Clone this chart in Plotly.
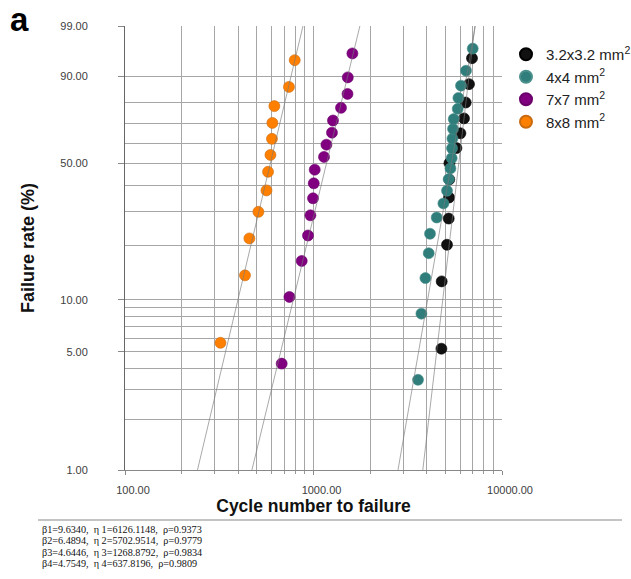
import numpy as np
import plotly.graph_objects as go

# ---------------- data ----------------
series_names = ["3.2x3.2 mm<sup>2</sup>", "4x4 mm<sup>2</sup>", "7x7 mm<sup>2</sup>", "8x8 mm<sup>2</sup>"]

cycles_32 = [4770, 4787, 5108, 5215, 5234, 5250, 5260, 5730, 6016, 6285, 6418, 6683, 6931]
rate_32 = [5.22, 12.69, 20.15, 27.61, 35.07, 42.54, 50.00, 57.46, 64.93, 72.39, 79.85, 87.31, 94.78]

cycles_4 = [3585, 3736, 3923, 4085, 4150, 4503, 4888, 5108, 5215, 5326, 5410, 5430, 5457, 5497,
            5544, 5821, 5871, 6060, 6442, 6992]
rate_4 = [3.43, 8.33, 13.24, 18.14, 23.04, 27.94, 32.84, 37.75, 42.65, 47.55, 52.45, 57.35, 62.25,
          67.16, 72.06, 76.96, 81.86, 86.76, 91.67, 96.57]

cycles_7 = [678, 745, 866, 935, 963, 994, 1003, 1015, 1137, 1171, 1253, 1269, 1399, 1515, 1520, 1608]
rate_7 = [4.27, 10.37, 16.46, 22.56, 28.66, 34.76, 40.85, 46.95, 53.05, 59.15, 65.24, 71.34, 77.44,
          83.54, 89.63, 95.73]

cycles_8 = [321, 433, 457, 510, 563, 574, 591, 602, 605, 620, 741, 795]
rate_8 = [5.65, 13.71, 21.77, 29.84, 37.90, 45.97, 54.03, 62.10, 70.16, 78.23, 86.29, 94.35]

beta = [9.6340, 6.4894, 4.6446, 4.7549]
eta = [6126.1148, 5702.9514, 1268.8792, 637.8196]
rho = [0.9373, 0.9779, 0.9834, 0.9809]

y_major_pct = [1, 5, 10, 50, 90, 99]
y_major_text = ["1.00", "5.00", "10.00", "50.00", "90.00", "99.00"]
y_minor_pct = [2, 3, 4, 6, 7, 8, 9, 20, 30, 40, 60, 70, 80]
x_major = [100, 1000, 10000]
x_major_text = ["100.00", "1000.00", "10000.00"]
x_minor = [200, 300, 400, 500, 600, 700, 800, 900, 2000, 3000, 4000, 5000, 6000, 7000, 8000, 9000]

colors = ["#111111", "#2f7e7b", "#800080", "#ff8000"]
edge_colors = ["#000000", "#4a8f8c", "#6a006a", "#c86a10"]

# ---------------- helpers ----------------
def wb(pct):
    p = np.asarray(pct, dtype=float) / 100.0
    return np.log(-np.log(1.0 - p))

W, H = 631, 579
ML, MR, MT, MB = 125, 129, 26, 109
PW, PH = W - ML - MR, H - MT - MB

def px_x(x):
    return (x - ML) / PW

def px_y(y):
    return (H - MB - y) / PH

fig = go.Figure()

all_cycles = [cycles_32, cycles_4, cycles_7, cycles_8]
all_rates = [rate_32, rate_4, rate_7, rate_8]

for i in range(4):
    fig.add_trace(go.Scatter(
        x=all_cycles[i], y=wb(all_rates[i]), mode="markers", name=series_names[i],
        marker=dict(size=11, color=colors[i], line=dict(width=0.6, color=edge_colors[i])),
        cliponaxis=False,
    ))

u_lo, u_hi = float(wb(1)), float(wb(99))
u_line = np.array([u_lo - 0.05, u_hi + 0.05])
for i in range(4):
    fig.add_trace(go.Scatter(
        x=eta[i] * np.exp(u_line / beta[i]), y=u_line, mode="lines", showlegend=False,
        line=dict(color="rgba(120,120,120,0.8)", width=0.8), hoverinfo="skip",
    ))

grid_col = "#a6a6a6"
fig.update_xaxes(
    type="log", range=[2, 4],
    tickmode="array", tickvals=x_major, ticktext=x_major_text,
    ticks="outside", ticklen=4, tickcolor="#888", ticklabelstandoff=6, ticklabelshift=8,
    showgrid=True, gridcolor=grid_col, gridwidth=1,
    minor=dict(tickmode="array", tickvals=x_minor, showgrid=True, gridcolor=grid_col,
               gridwidth=1, ticks="outside", ticklen=3, tickcolor="#999"),
    showline=True, linecolor="#888", linewidth=1, zeroline=False,
    tickfont=dict(family="Liberation Sans, Arial", size=11, color="#404040"),
    title=dict(text="<b>Cycle number to failure</b>", standoff=2,
               font=dict(family="Liberation Sans, Arial", size=17.5, color="#111")),
)
fig.update_yaxes(
    type="linear", range=[u_lo, u_hi],
    tickmode="array", tickvals=wb(y_major_pct), ticktext=y_major_text,
    ticks="outside", ticklen=6, tickcolor="#888", ticklabelstandoff=28,
    showgrid=True, gridcolor=grid_col, gridwidth=1,
    minor=dict(tickmode="array", tickvals=wb(y_minor_pct), showgrid=True,
               gridcolor=grid_col, gridwidth=1, ticks=""),
    showline=True, linecolor="#666", linewidth=1, zeroline=False,
    tickfont=dict(family="Liberation Sans, Arial", size=11, color="#404040"),
    title=dict(text="<b>Failure rate (%)</b>", standoff=20,
               font=dict(family="Liberation Sans, Arial", size=18, color="#111")),
)

caption = ["\u03b2{0}={1:.4f},  \u03b7 {0}={2:.4f},  \u03c1={3:.4f}".format(i + 1, beta[i], eta[i], rho[i])
           for i in range(4)]
annotations = [dict(text="<b>a</b>", xref="paper", yref="paper", x=px_x(8), y=px_y(20),
                    xanchor="left", yanchor="middle", showarrow=False,
                    font=dict(family="Liberation Sans, Arial", size=33, color="#000"))]
for k, line in enumerate(caption):
    annotations.append(dict(text=line, xref="paper", yref="paper", x=px_x(41), y=px_y(529.5 + 11.4 * k),
                            xanchor="left", yanchor="middle", showarrow=False, borderpad=0,
                            font=dict(family="Liberation Serif, Times New Roman", size=10.2, color="#111")))

fig.update_layout(
    width=W, height=H,
    margin=dict(l=ML, r=MR, t=MT, b=MB, autoexpand=False),
    plot_bgcolor="white", paper_bgcolor="white",
    showlegend=True,
    legend=dict(x=px_x(506), y=px_y(38), xanchor="left", yanchor="top",
                font=dict(family="Liberation Sans, Arial", size=15, color="#222"),
                bgcolor="rgba(0,0,0,0)", itemsizing="constant"),
    annotations=annotations,
    shapes=[dict(type="line", xref="paper", yref="paper", x0=px_x(38), x1=px_x(622),
                 y0=px_y(520), y1=px_y(520), line=dict(color="#b0b0b0", width=1.5))],
)

fig.write_html("out.html", config={"displayModeBar": False},
               post_script="document.body.style.margin='0';")
